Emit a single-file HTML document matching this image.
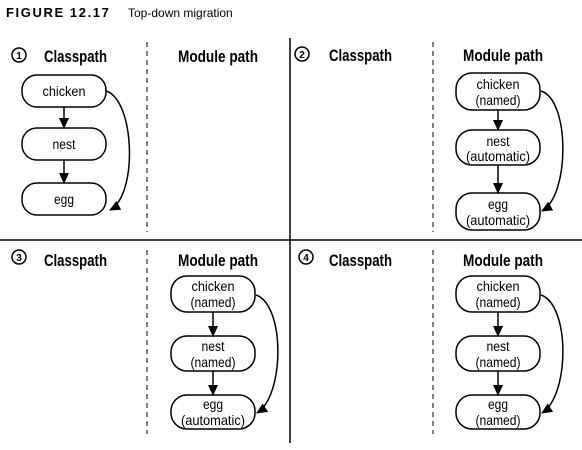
<!DOCTYPE html>
<html><head><meta charset="utf-8"><style>
html,body{margin:0;padding:0;background:#fff}
svg{display:block}
.t{font-family:"Liberation Sans",sans-serif;font-weight:bold;font-size:17px;fill:#000}
.n{font-family:"Liberation Sans",sans-serif;font-size:14px;fill:#000;text-anchor:middle}
.c{font-family:"Liberation Sans",sans-serif;font-size:10px;font-weight:bold;text-anchor:middle}
</style></head><body>
<svg width="582" height="450" viewBox="0 0 582 450" xmlns="http://www.w3.org/2000/svg">
<defs><marker id="a" markerWidth="11" markerHeight="10" refX="10" refY="5" orient="auto" markerUnits="userSpaceOnUse"><path d="M0,0 L11,5 L0,10 Z" fill="#000"/></marker></defs>
<text x="6" y="17" style="font-family:'Liberation Sans',sans-serif;font-weight:900;font-size:13px;letter-spacing:1.6px">FIGURE 12.17</text>
<text x="128" y="17" style="font-family:'Liberation Sans',sans-serif;font-size:12px">Top-down migration</text>
<line x1="0" y1="240" x2="582" y2="240" stroke="#000" stroke-width="1.5"/>
<line x1="290" y1="38" x2="290" y2="443" stroke="#000" stroke-width="1.5"/>
<g stroke="#000" stroke-width="1" stroke-dasharray="5,4">
<line x1="147" y1="42" x2="147" y2="232"/><line x1="433" y1="42" x2="433" y2="232"/>
<line x1="147" y1="250" x2="147" y2="434"/><line x1="433" y1="250" x2="433" y2="434"/>
</g>
<g fill="none" stroke="#000" stroke-width="1.5">
<circle cx="19" cy="55" r="7"/><circle cx="302" cy="54" r="7"/><circle cx="19" cy="257" r="7"/><circle cx="306" cy="257" r="7"/>
</g>
<text class="c" x="19" y="59">1</text><text class="c" x="302" y="58">2</text><text class="c" x="19" y="261">3</text><text class="c" x="306" y="261">4</text>
<text class="t" x="44" y="62" textLength="63" lengthAdjust="spacingAndGlyphs">Classpath</text><text class="t" x="178" y="62" textLength="80" lengthAdjust="spacingAndGlyphs">Module path</text>
<text class="t" x="329" y="61" textLength="63" lengthAdjust="spacingAndGlyphs">Classpath</text><text class="t" x="463" y="61" textLength="80" lengthAdjust="spacingAndGlyphs">Module path</text>
<text class="t" x="44" y="266" textLength="63" lengthAdjust="spacingAndGlyphs">Classpath</text><text class="t" x="178" y="266" textLength="80" lengthAdjust="spacingAndGlyphs">Module path</text>
<text class="t" x="329" y="266" textLength="63" lengthAdjust="spacingAndGlyphs">Classpath</text><text class="t" x="463" y="266" textLength="80" lengthAdjust="spacingAndGlyphs">Module path</text>
<g fill="#fff" stroke="#000" stroke-width="1.5">
<rect x="22" y="75" width="84" height="32" rx="15"/><rect x="22" y="128" width="84" height="32" rx="15"/><rect x="22" y="183" width="84" height="32" rx="15"/>
<rect x="456" y="73" width="84" height="37" rx="16"/><rect x="456" y="130" width="84" height="35" rx="16"/><rect x="456" y="193" width="84" height="37" rx="16"/>
<rect x="171" y="276" width="84" height="36" rx="16"/><rect x="171" y="336" width="84" height="35" rx="16"/><rect x="171" y="395" width="84" height="34" rx="16"/>
<rect x="456" y="276" width="84" height="36" rx="16"/><rect x="456" y="336" width="84" height="35" rx="16"/><rect x="456" y="395" width="84" height="34" rx="16"/>
</g>
<g fill="none" stroke="#000" stroke-width="1.5" marker-end="url(#a)">
<line x1="64" y1="107" x2="64" y2="128"/><line x1="64" y1="160" x2="64" y2="183"/>
<path d="M106,91 C135,100 138,195 110,210"/>
<line x1="498" y1="110" x2="498" y2="130"/><line x1="498" y1="165" x2="498" y2="193"/>
<path d="M541,91 C570,100 570,195 542,211"/>
<line x1="213" y1="312" x2="213" y2="336"/><line x1="213" y1="371" x2="213" y2="395"/>
<path d="M256,295 C285,305 285,395 257,413"/>
<line x1="498" y1="312" x2="498" y2="336"/><line x1="498" y1="371" x2="498" y2="395"/>
<path d="M541,295 C570,305 570,395 542,413"/>
</g>
<g class="n">
<text class="n" x="64" y="96" textLength="43" lengthAdjust="spacingAndGlyphs">chicken</text><text class="n" x="64" y="149" textLength="23" lengthAdjust="spacingAndGlyphs">nest</text><text class="n" x="64" y="204" textLength="20" lengthAdjust="spacingAndGlyphs">egg</text>
<text class="n" x="498" y="89" textLength="43" lengthAdjust="spacingAndGlyphs">chicken</text><text class="n" x="498" y="105" textLength="45" lengthAdjust="spacingAndGlyphs">(named)</text>
<text class="n" x="498" y="146" textLength="23" lengthAdjust="spacingAndGlyphs">nest</text><text class="n" x="498" y="161" textLength="64" lengthAdjust="spacingAndGlyphs">(automatic)</text>
<text class="n" x="498" y="209" textLength="20" lengthAdjust="spacingAndGlyphs">egg</text><text class="n" x="498" y="225" textLength="64" lengthAdjust="spacingAndGlyphs">(automatic)</text>
<text class="n" x="213" y="291" textLength="43" lengthAdjust="spacingAndGlyphs">chicken</text><text class="n" x="213" y="307" textLength="45" lengthAdjust="spacingAndGlyphs">(named)</text>
<text class="n" x="213" y="351" textLength="23" lengthAdjust="spacingAndGlyphs">nest</text><text class="n" x="213" y="367" textLength="45" lengthAdjust="spacingAndGlyphs">(named)</text>
<text class="n" x="213" y="409" textLength="20" lengthAdjust="spacingAndGlyphs">egg</text><text class="n" x="213" y="425" textLength="64" lengthAdjust="spacingAndGlyphs">(automatic)</text>
<text class="n" x="498" y="291" textLength="43" lengthAdjust="spacingAndGlyphs">chicken</text><text class="n" x="498" y="307" textLength="45" lengthAdjust="spacingAndGlyphs">(named)</text>
<text class="n" x="498" y="351" textLength="23" lengthAdjust="spacingAndGlyphs">nest</text><text class="n" x="498" y="367" textLength="45" lengthAdjust="spacingAndGlyphs">(named)</text>
<text class="n" x="498" y="409" textLength="20" lengthAdjust="spacingAndGlyphs">egg</text><text class="n" x="498" y="425" textLength="45" lengthAdjust="spacingAndGlyphs">(named)</text>
</g>
</svg>
</body></html>
